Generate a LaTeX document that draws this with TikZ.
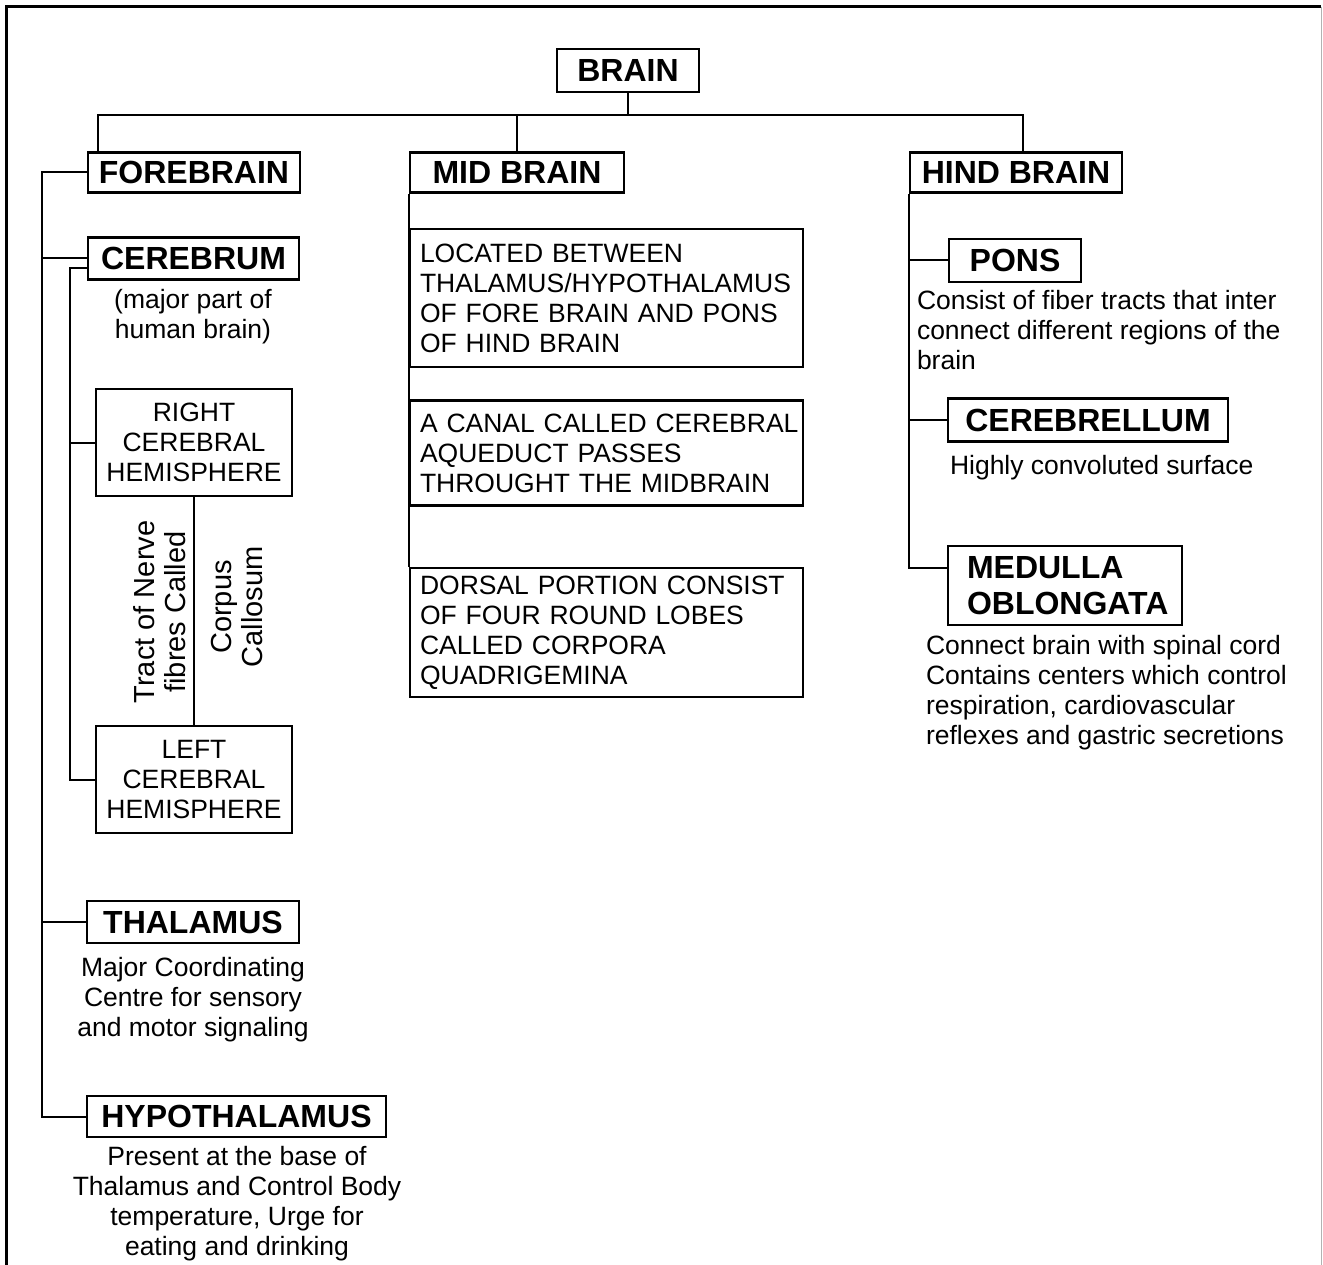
\documentclass[tikz,border=0pt]{standalone}
\usepackage{fontspec}
\setmainfont{Liberation Sans}

\begin{document}
\begin{tikzpicture}[
	x=1pt, y=-1pt,
	line width=2pt,
	head/.style={draw, line width=2.5pt, inner sep=0pt, font=\fontsize{32}{36}\selectfont\bfseries},
	hemi/.style={draw, line width=2.5pt, inner sep=0pt, minimum width=196pt, minimum height=107pt, align=center, font=\fontsize{26.5}{30}\selectfont},
	textbox/.style={draw, line width=2.5pt, inner xsep=10pt, inner ysep=0pt, text width=373pt, align=left, font=\fontsize{26.5}{30}\selectfont},
	note/.style={inner sep=0pt, font=\fontsize{26.5}{30}\selectfont},
	tract/.style={inner sep=0pt, rotate=90, align=center, font=\fontsize{29}{31}\selectfont}
]
\useasboundingbox (0,0) rectangle (1323,1265);

% frame
\draw[line width=3pt] (6.5,1265) -- (6.5,7) -- (1321,7);
\draw[gray!60, line width=1pt] (1321,7) -- (1321,1265);

% top level
\node[head, minimum width=142pt, minimum height=43pt] (brain) at (628,70.5) {BRAIN};
\node[head, minimum width=212pt, minimum height=40pt] (fore) at (194,172.5) {FOREBRAIN};
\node[head, minimum width=214pt, minimum height=40pt] (mid) at (517,172.5) {MID BRAIN};
\node[head, minimum width=212pt, minimum height=40pt] (hind) at (1016,172.5) {HIND BRAIN};

\coordinate (busL) at (98,115);
\coordinate (busR) at (1023,115);
\draw (brain) -- (brain |- busL);
\draw (busL |- fore.north) -- (busL) -- (busR) -- (busR |- hind.north);
\draw (mid.north) -- (mid.north |- busL);

% forebrain
\node[head, minimum width=211pt, minimum height=42pt] (cere) at (193.5,258.5) {CEREBRUM};
\node[note, align=center] (cereNote) at (193,317) {(major part of\\human brain)};
\node[hemi] (rhemi) at (194,442.5) {RIGHT\\CEREBRAL\\HEMISPHERE};
\node[hemi] (lhemi) at (194,779.5) {LEFT\\CEREBRAL\\HEMISPHERE};
\node[tract] (tractNote) at (160,612) {Tract of Nerve\\fibres Called};
\node[tract] (corpus) at (237,607) {Corpus\\Callosum};
\node[head, minimum width=212pt, minimum height=42pt] (thal) at (193,922) {THALAMUS};
\node[note, align=center] (thalNote) at (193,1000) {Major Coordinating\\Centre for sensory\\and motor signaling};
\node[head, minimum width=299pt, minimum height=41pt] (hypo) at (236.5,1116.5) {HYPOTHALAMUS};
\node[note, align=center] (hypoNote) at (237,1204) {Present at the base of\\Thalamus and Control Body\\temperature, Urge for\\eating and drinking};

\coordinate (trunkF) at (42,0);
\coordinate (trunkC) at (70,0);
\draw (fore.west) -- (fore.west -| trunkF) -- (hypo.west -| trunkF) -- (hypo.west);
\draw (trunkF |- cere.west) -- (cere.west);
\draw (trunkF |- thal.west) -- (thal.west);
\draw ([yshift=-10pt]cere.west) -- ([yshift=-10pt]cere.west -| trunkC) -- (lhemi.west -| trunkC) -- (lhemi.west);
\draw (trunkC |- rhemi.west) -- (rhemi.west);
\draw (rhemi) -- (lhemi);

% mid brain
\node[textbox, minimum height=138pt] (midA) at (606.5,298) {LOCATED BETWEEN\\THALAMUS/HYPOTHALAMUS\\OF FORE BRAIN AND PONS\\OF HIND BRAIN};
\node[textbox, minimum height=105pt] (midB) at (606.5,453) {\mbox{A CANAL CALLED CEREBRAL}\\AQUEDUCT PASSES\\THROUGHT THE MIDBRAIN};
\node[textbox, minimum height=129pt] (midC) at (606.5,632.5) {DORSAL PORTION CONSIST\\OF FOUR ROUND LOBES\\CALLED CORPORA\\QUADRIGEMINA};
\draw (mid.south west) -- (midC.north west);

% hind brain
\node[head, minimum width=132pt, minimum height=43pt] (pons) at (1015,260.5) {PONS};
\node[note, align=left, anchor=west] (ponsNote) at (916,330.5) {Consist of fiber tracts that inter\\connect different regions of the\\brain};
\node[head, minimum width=280pt, minimum height=43pt] (cereb) at (1088,420) {CEREBRELLUM};
\node[note, anchor=west] (cerebNote) at (949,468) {Highly convoluted surface};
\node[head, minimum width=234pt, minimum height=79pt, inner xsep=19pt, text width=196pt, align=left] (medulla) at (1065,585.5) {MEDULLA\\OBLONGATA};
\node[note, align=left, anchor=west] (medNote) at (925,692.5) {Connect brain with spinal cord\\Contains centers which control\\respiration, cardiovascular\\reflexes and gastric secretions};

\draw (hind.south west) -- (hind.south west |- medulla.north) -- ([yshift=17.5pt]medulla.west -| hind.south west) -- ([yshift=17.5pt]medulla.west);
\draw (hind.south west |- pons.west) -- (pons.west);
\draw (hind.south west |- cereb.west) -- (cereb.west);
\end{tikzpicture}
\end{document}
